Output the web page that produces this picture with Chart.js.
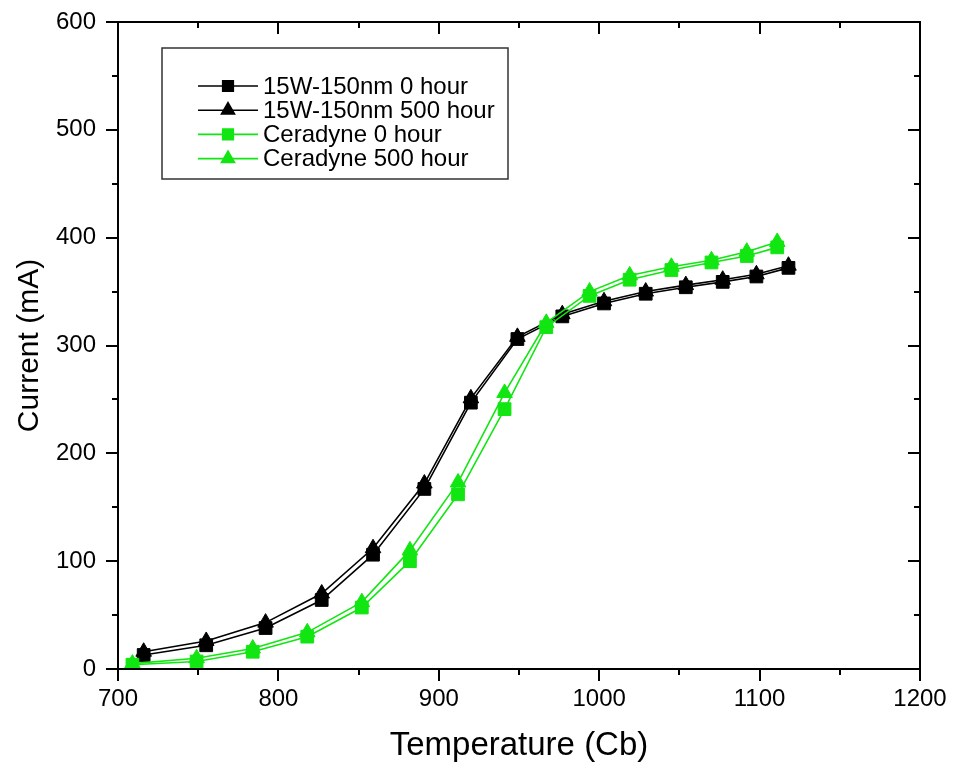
<!DOCTYPE html>
<html>
<head>
<meta charset="utf-8">
<script src="https://cdn.jsdelivr.net/npm/chart.js@4.4.1/dist/chart.umd.min.js"></script>
<style>
  html, body { margin: 0; padding: 0; background: #fff; }
  #wrap { width: 954px; height: 770px; }
</style>
</head>
<body>
<div id="wrap"><canvas id="myChart" width="954" height="770"></canvas></div>
<script>
// data
const temp15W = [716, 755, 792, 827, 859, 891, 920, 949, 977, 1003, 1029, 1054, 1077, 1098, 1118];
const current15W0h = [13, 22, 38, 64, 106, 167, 247, 306, 327, 339, 348, 354, 359, 364, 372];
const current15W500h = [16, 26, 43, 70, 112, 172, 251, 308, 329, 341, 350, 356, 361, 366, 374];

const tempCeradyne = [709, 749, 784, 818, 852, 882, 912, 941, 967, 994, 1019, 1045, 1070, 1092, 1111];
const currentCer0h = [4, 7, 16, 30, 57, 100, 162, 241, 317, 346, 361, 370, 377, 383, 391];
const currentCer500h = [5, 10, 19, 34, 62, 110, 173, 256, 321, 350, 365, 373, 379, 387, 396];

const xTicks = [700, 800, 900, 1000, 1100, 1200];
const yTicks = [0, 100, 200, 300, 400, 500, 600];

const BLACK = '#000000';
const GREEN = '#12e612';

function pts(xs, ys) {
  return xs.map((x, i) => ({x: x, y: ys[i]}));
}

function series(label, xs, ys, color, style, order) {
  return {
    label: label,
    data: pts(xs, ys),
    borderColor: color,
    backgroundColor: color,
    borderWidth: 1.6,
    pointStyle: style,
    pointRadius: 9,
    pointBorderWidth: 1,
    pointBorderColor: color,
    pointBackgroundColor: color,
    tension: 0,
    order: order
  };
}

// frame with inner/outer ticks on all four sides
const framePlugin = {
  id: 'frame',
  afterDatasetsDraw(chart) {
    const ctx = chart.ctx;
    const a = chart.chartArea;
    const xs = chart.scales.x, ys = chart.scales.y;
    ctx.save();
    ctx.strokeStyle = '#000';
    ctx.lineWidth = 2;
    ctx.strokeRect(a.left, a.top, a.right - a.left, a.bottom - a.top);
    ctx.beginPath();
    for (let v = 700; v <= 1200; v += 50) {
      const len = v % 100 === 0 ? 12 : 6;
      const px = Math.round(xs.getPixelForValue(v));
      ctx.moveTo(px, a.bottom); ctx.lineTo(px, a.bottom + len);
      ctx.moveTo(px, a.top); ctx.lineTo(px, a.top + len);
    }
    for (let v = 0; v <= 600; v += 50) {
      const len = v % 100 === 0 ? 12 : 6;
      const py = Math.round(ys.getPixelForValue(v));
      ctx.moveTo(a.left, py); ctx.lineTo(a.left - len, py);
      ctx.moveTo(a.right, py); ctx.lineTo(a.right - len, py);
    }
    ctx.stroke();
    ctx.restore();
  }
};

// legend box drawn inside the plot
const boxLegend = {
  id: 'boxLegend',
  afterDraw(chart) {
    const ctx = chart.ctx;
    ctx.save();
    ctx.strokeStyle = '#333';
    ctx.lineWidth = 1.5;
    ctx.strokeRect(162, 48, 346, 131);
    ctx.font = '24px "Liberation Sans", Arial, sans-serif';
    ctx.textBaseline = 'middle';
    chart.data.datasets.forEach((ds, i) => {
      const y = 86 + i * 24.2;
      ctx.strokeStyle = ds.borderColor;
      ctx.lineWidth = 1.6;
      ctx.beginPath();
      ctx.moveTo(198, y); ctx.lineTo(258, y);
      ctx.stroke();
      ctx.fillStyle = ds.backgroundColor;
      Chart.helpers.drawPoint(ctx, {pointStyle: ds.pointStyle, radius: 7.5, borderWidth: 1, rotation: 0}, 228, y);
      ctx.fillStyle = '#000';
      ctx.fillText(ds.label, 263, y + 1);
    });
    ctx.restore();
  }
};

const config = {
  type: 'line',
  data: {
    datasets: [
      series('15W-150nm 0 hour', temp15W, current15W0h, BLACK, 'rect', 2),
      series('15W-150nm 500 hour', temp15W, current15W500h, BLACK, 'triangle', 3),
      series('Ceradyne 0 hour', tempCeradyne, currentCer0h, GREEN, 'rect', 1),
      series('Ceradyne 500 hour', tempCeradyne, currentCer500h, GREEN, 'triangle', 0)
    ]
  },
  options: {
    responsive: false,
    animation: false,
    layout: { padding: { top: 22, right: 34, left: 0, bottom: 0 } },
    plugins: { legend: { display: false }, tooltip: { enabled: false } },
    scales: {
      x: {
        type: 'linear',
        min: 700, max: 1200,
        afterBuildTicks(scale) { scale.ticks = xTicks.map(v => ({value: v})); },
        afterFit(scale) {
          scale.height = 101;
          scale.paddingLeft = 0; scale.paddingRight = 0;
        },
        grid: { display: false, drawTicks: false },
        border: { display: false },
        ticks: {
          padding: 16, color: '#000', font: { family: 'Liberation Sans', size: 24 },
          callback: v => String(v)
        },
        title: {
          display: true, text: 'Temperature (Cb)', color: '#000',
          font: { family: 'Liberation Sans', size: 33 },
          padding: { top: 0, bottom: 4 }
        }
      },
      y: {
        type: 'linear',
        min: 0, max: 600,
        afterBuildTicks(scale) { scale.ticks = yTicks.map(v => ({value: v})); },
        afterFit(scale) {
          scale.width = 118;
          scale.paddingTop = 0; scale.paddingBottom = 0;
        },
        grid: { display: false, drawTicks: false },
        border: { display: false },
        ticks: {
          padding: 22, color: '#000', font: { family: 'Liberation Sans', size: 24 },
          callback: v => String(v)
        },
        title: {
          display: true, text: 'Current (mA)', color: '#000',
          font: { family: 'Liberation Sans', size: 30 },
          padding: { top: 12, bottom: 0 }
        }
      }
    }
  },
  plugins: [framePlugin, boxLegend]
};

const myChart = new Chart(document.getElementById('myChart'), config);
</script>
</body>
</html>
